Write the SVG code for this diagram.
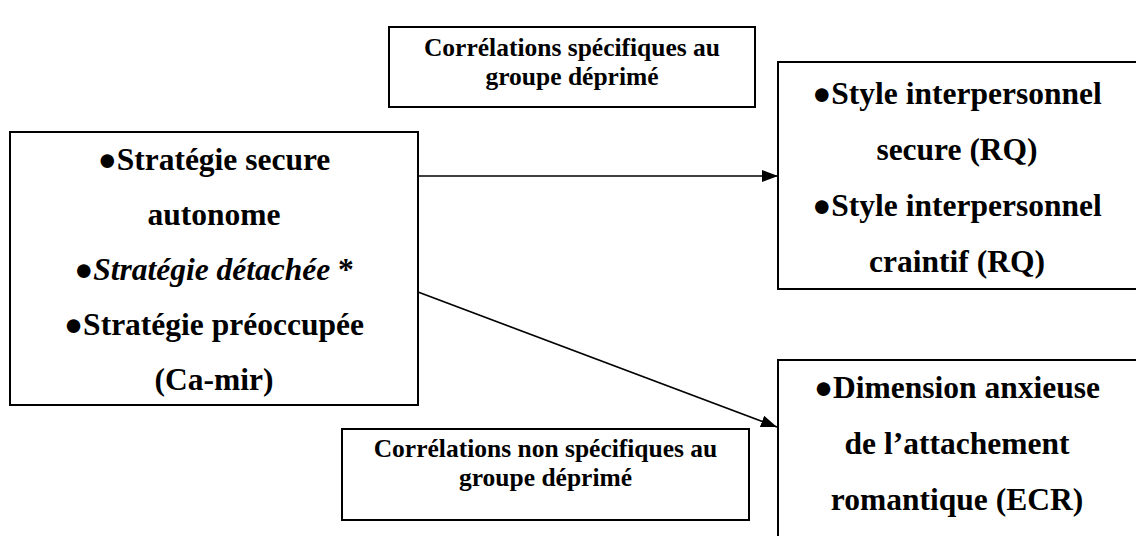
<svg xmlns="http://www.w3.org/2000/svg" width="1136" height="536" viewBox="0 0 1136 536">
<defs>
<style>
.box{fill:#fff;stroke:#000;stroke-width:2}
.big{font-family:"Liberation Serif","Times New Roman",serif;font-weight:bold;font-size:31.5px;fill:#000;text-anchor:middle}
.small{font-family:"Liberation Serif","Times New Roman",serif;font-weight:bold;font-size:25.5px;fill:#000;text-anchor:middle}
.conn{stroke:#000;stroke-width:1.6;fill:none}
</style>
<marker id="arr" viewBox="0 0 16 12" refX="16" refY="6" markerWidth="16" markerHeight="12" markerUnits="userSpaceOnUse" orient="auto">
<path d="M0,0 L16,6 L0,12 Z" fill="#000"/>
</marker>
</defs>
<rect width="1136" height="536" fill="#fff"/>
<g id="label-specific">
<rect class="box" x="389" y="27" width="366" height="80"/>
<text class="small" x="572" y="56">Corrélations spécifiques au</text>
<text class="small" x="572" y="85">groupe déprimé</text>
</g>
<g id="label-nonspecific">
<rect class="box" x="342" y="429" width="407" height="91"/>
<text class="small" x="545.5" y="457">Corrélations non spécifiques au</text>
<text class="small" x="545.5" y="486">groupe déprimé</text>
</g>
<g id="strategies">
<rect class="box" x="10" y="132" width="408" height="273"/>
<text class="big" x="214" y="170">●Stratégie secure</text>
<text class="big" x="214" y="225">autonome</text>
<text class="big" x="214" y="280">●<tspan font-style="italic">Stratégie détachée</tspan> *</text>
<text class="big" x="214" y="335">●Stratégie préoccupée</text>
<text class="big" x="214" y="390">(Ca-mir)</text>
</g>
<g id="styles">
<rect class="box" x="778" y="62" width="370" height="227"/>
<text class="big" x="957" y="104">●Style interpersonnel</text>
<text class="big" x="957" y="160">secure (RQ)</text>
<text class="big" x="957" y="216">●Style interpersonnel</text>
<text class="big" x="957" y="272">craintif (RQ)</text>
</g>
<g id="anxious">
<rect class="box" x="778" y="360" width="370" height="200"/>
<text class="big" x="957" y="398">●Dimension anxieuse</text>
<text class="big" x="957" y="454">de l’attachement</text>
<text class="big" x="957" y="510">romantique (ECR)</text>
</g>
<g id="connectors">
<line class="conn" x1="418" y1="176" x2="778" y2="176" marker-end="url(#arr)"/>
<line class="conn" x1="418" y1="292" x2="777" y2="427" marker-end="url(#arr)"/>
</g>
</svg>
